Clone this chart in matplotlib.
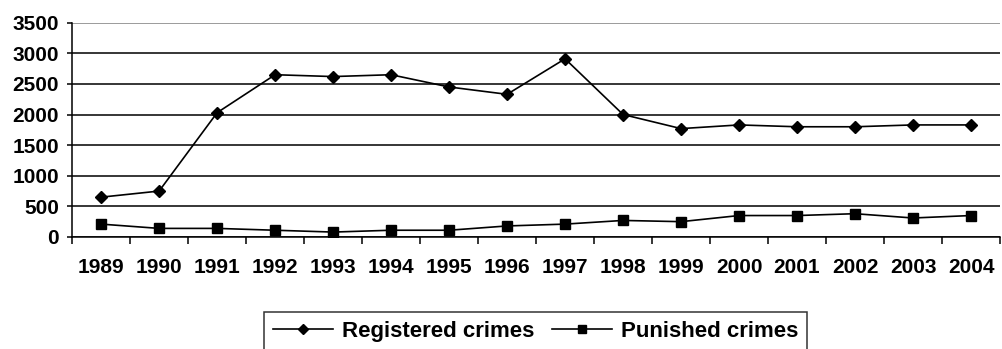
# registered vs punished crimes, 1989-2004

import matplotlib.pyplot as plt

years = ['1989', '1990', '1991', '1992', '1993', '1994', '1995', '1996',
         '1997', '1998', '1999', '2000', '2001', '2002', '2003', '2004']
registered = [650, 750, 2030, 2650, 2620, 2650, 2450, 2330,
              2910, 2000, 1770, 1830, 1800, 1800, 1830, 1830]
punished = [210, 140, 140, 110, 80, 110, 110, 180,
            210, 270, 250, 350, 350, 380, 310, 350]
y_ticks = [0, 500, 1000, 1500, 2000, 2500, 3000, 3500]

plt.rcParams['font.family'] = 'Liberation Sans'
plt.rcParams['font.weight'] = 'bold'

fig = plt.figure(figsize=(10.02, 3.49), dpi=100)
ax = fig.add_axes([0.072, 0.321, 0.926, 0.614])

x = list(range(len(years)))
ax.plot(x, registered, color='black', lw=1.2, marker='D', markersize=6.5,
        label='Registered crimes')
ax.plot(x, punished, color='black', lw=1.2, marker='s', markersize=7.5,
        label='Punished crimes')

ax.set_xlim(-0.5, len(years) - 0.5)
ax.set_ylim(0, 3500)
ax.set_yticks(y_ticks)
ax.set_yticklabels([str(v) for v in y_ticks], fontsize=15, fontweight='bold')

# ticks between categories, labels in the middle
ax.set_xticks([i - 0.5 for i in range(len(years) + 1)])
ax.set_xticklabels([])
ax.set_xticks(x, minor=True)
ax.set_xticklabels(years, minor=True, fontsize=15, fontweight='bold')
ax.tick_params(axis='x', which='major', direction='out', length=5, width=1.1)
ax.tick_params(axis='x', which='minor', length=0, pad=15)
ax.tick_params(axis='y', direction='out', length=3.6, width=1.1, pad=6)

ax.grid(axis='y', color='black', lw=1.1)
ax.yaxis.get_gridlines()[-1].set_color('#808080')
ax.set_axisbelow(True)
for side in ['top', 'right']:
    ax.spines[side].set_visible(False)
for side in ['left', 'bottom']:
    ax.spines[side].set_linewidth(1.1)

leg = fig.legend(loc='upper center', bbox_to_anchor=(0.5345, 0.106), ncol=2,
                 frameon=True, fancybox=False, edgecolor='black',
                 prop={'family': 'Liberation Sans', 'weight': 'bold', 'size': 16},
                 handlelength=2.7, markerscale=0.75, columnspacing=0.8,
                 handletextpad=0.4, borderpad=0.4, borderaxespad=0)
leg.get_frame().set_linewidth(1.1)

plt.savefig('out.png', dpi=100)
